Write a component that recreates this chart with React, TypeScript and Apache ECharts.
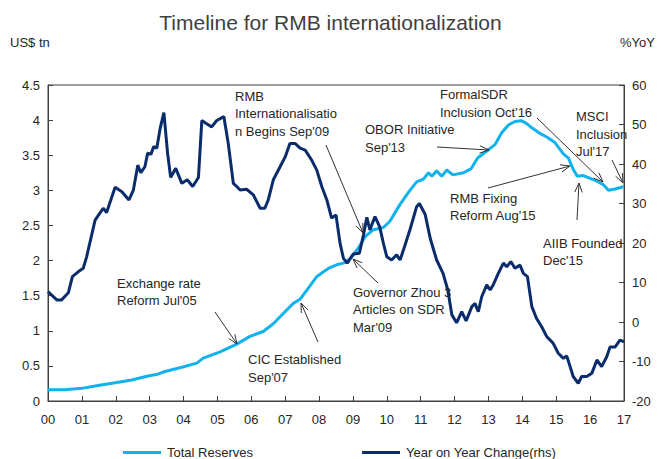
import React, { useEffect, useRef } from "react";
import * as echarts from "echarts";

const FONT = '"Liberation Sans", Arial, sans-serif';

const xTicks = { min: 2000, max: 2017, interval: 1 };
const leftAxis = { min: 0, max: 4.5, interval: 0.5 };
const rightAxis = { min: -20, max: 60, interval: 10 };

const reserveDates = [
  2000.0, 2000.5, 2000.99, 2001.48, 2001.98, 2002.47, 2002.89, 2003.26, 2003.45, 2003.95,
  2004.39, 2004.58, 2005.08, 2005.57, 2005.96, 2006.35, 2006.65, 2006.95, 2007.24, 2007.44,
  2007.64, 2007.93, 2008.13, 2008.32, 2008.52, 2008.77, 2008.96, 2009.16, 2009.36, 2009.6,
  2009.9, 2010.09, 2010.39, 2010.68, 2010.88, 2011.08, 2011.23, 2011.33, 2011.47, 2011.62,
  2011.77, 2011.95, 2012.26, 2012.49, 2012.68, 2012.95, 2013.19, 2013.39, 2013.59, 2013.78,
  2013.98, 2014.13, 2014.28, 2014.52, 2014.72, 2014.96, 2015.21, 2015.36, 2015.5, 2015.62,
  2015.8, 2015.95, 2016.2, 2016.39, 2016.54, 2016.74, 2016.98, 2017.0,
];
const reserveValues = [
  0.16, 0.16, 0.18, 0.22, 0.26, 0.3, 0.35, 0.385, 0.42, 0.48,
  0.54, 0.61, 0.7, 0.81, 0.92, 0.99, 1.1, 1.25, 1.39, 1.45,
  1.58, 1.77, 1.84, 1.9, 1.94, 1.97, 2.05, 2.18, 2.34, 2.44,
  2.47, 2.56, 2.8, 3.0, 3.12, 3.16, 3.25, 3.2, 3.28, 3.2,
  3.29, 3.22, 3.25, 3.31, 3.46, 3.56, 3.65, 3.82, 3.93, 3.98,
  3.99, 3.95, 3.89, 3.81, 3.76, 3.68, 3.52, 3.46, 3.3, 3.2,
  3.21, 3.18, 3.13, 3.08, 3.0, 3.02, 3.05, 3.05,
];

const yoyDates = [
  2000.0, 2000.26, 2000.4, 2000.6, 2000.72, 2000.89, 2001.04, 2001.14, 2001.39, 2001.63,
  2001.73, 2001.98, 2002.18, 2002.39, 2002.52, 2002.65, 2002.74, 2002.86, 2002.94, 2003.04,
  2003.12, 2003.21, 2003.31, 2003.42, 2003.53, 2003.62, 2003.77, 2003.95, 2004.11, 2004.27,
  2004.44, 2004.54, 2004.66, 2004.83, 2004.98, 2005.19, 2005.32, 2005.47, 2005.57, 2005.67,
  2005.86, 2006.06, 2006.26, 2006.4, 2006.5, 2006.65, 2006.85, 2007.0, 2007.14, 2007.29,
  2007.44, 2007.59, 2007.78, 2007.93, 2008.08, 2008.23, 2008.37, 2008.5, 2008.62, 2008.72,
  2008.83, 2009.01, 2009.19, 2009.31, 2009.41, 2009.5, 2009.65, 2009.79, 2009.9, 2010.0,
  2010.14, 2010.29, 2010.39, 2010.49, 2010.68, 2010.88, 2010.96, 2011.13, 2011.28, 2011.47,
  2011.66, 2011.8, 2011.92, 2012.06, 2012.21, 2012.34, 2012.51, 2012.6, 2012.7, 2012.8,
  2012.95, 2013.05, 2013.14, 2013.29, 2013.44, 2013.54, 2013.66, 2013.78, 2013.93, 2014.03,
  2014.15, 2014.28, 2014.42, 2014.57, 2014.72, 2014.91, 2015.06, 2015.21, 2015.31, 2015.41,
  2015.5, 2015.65, 2015.75, 2015.9, 2016.05, 2016.2, 2016.34, 2016.49, 2016.59, 2016.74,
  2016.88, 2017.0,
];
const yoyValues = [
  7.7, 5.6, 5.6, 7.4, 11.5, 12.7, 13.6, 16.5, 25.8, 28.8,
  27.7, 34.1, 33.0, 30.9, 33.4, 39.7, 37.8, 39.3, 42.7, 42.5,
  44.4, 44.0, 49.0, 53.0, 42.7, 36.6, 38.9, 35.1, 36.0, 34.3,
  36.6, 51.0, 50.3, 49.4, 51.0, 52.0, 45.2, 35.1, 34.3, 33.4,
  33.6, 32.2, 28.8, 28.8, 30.9, 36.0, 39.3, 41.8, 45.2, 45.2,
  44.0, 43.5, 41.0, 38.5, 34.3, 30.9, 26.3, 27.1, 19.9, 16.1,
  14.9, 17.2, 17.4, 22.0, 26.5, 23.3, 26.7, 24.1, 19.9, 16.5,
  15.7, 17.0, 15.7, 18.2, 23.3, 29.2, 30.0, 27.3, 21.2, 15.7,
  12.3, 8.1, 1.8, -0.2, 2.6, 0.3, 3.9, 4.7, 2.6, 6.4,
  9.4, 8.1, 9.4, 12.3, 14.9, 14.0, 15.3, 13.6, 14.4, 12.3,
  11.5, 3.9, 0.9, -1.2, -3.7, -5.4, -7.9, -9.2, -8.6, -11.3,
  -13.8, -15.5, -13.8, -13.8, -13.0, -9.6, -11.3, -8.8, -6.3, -6.3,
  -4.6, -5.0,
];

const annotationTexts = [
  { text: "RMB\nInternationalisatio\nn Begins Sep'09", x: 235, y: 87.5 },
  { text: "OBOR Initiative\nSep'13", x: 365, y: 121 },
  { text: "FormalSDR\nInclusion Oct'16", x: 440, y: 86 },
  { text: "MSCI\nInclusion\nJul'17", x: 576, y: 108 },
  { text: "RMB Fixing\nReform Aug'15", x: 450, y: 189.5 },
  { text: "AIIB Founded\nDec'15", x: 543, y: 234.5 },
  { text: "Exchange rate\nReform Jul'05", x: 117, y: 274.5 },
  { text: "CIC Established\nSep'07", x: 248, y: 351 },
  { text: "Governor Zhou 3\nArticles on SDR\nMar'09", x: 353, y: 283.5 },
];

const arrows = [
  [326, 145, 363, 233],
  [437, 147, 489, 150],
  [537, 118, 603, 182],
  [612, 160, 623, 183],
  [488, 188, 570, 166],
  [577, 220, 579, 183],
  [215, 312, 237, 344],
  [318, 342, 301, 303],
  [378, 283, 353, 259],
];

const LIGHT = "#12B2EE";
const DARK = "#0B2C6B";
const AXIS = "#404040";
const TEXT = "#262626";

function arrowGraphic(a: number[]) {
  const [x1, y1, x2, y2] = a;
  const ang = Math.atan2(y2 - y1, x2 - x1);
  const L = 10;
  const w = 0.38;
  const p1 = [x2 - L * Math.cos(ang - w), y2 - L * Math.sin(ang - w)];
  const p2 = [x2 - L * Math.cos(ang + w), y2 - L * Math.sin(ang + w)];
  return [
    { type: "line", z: 100, shape: { x1, y1, x2, y2 }, style: { stroke: "#333", lineWidth: 1 } },
    {
      type: "polyline",
      z: 100,
      shape: { points: [p1, [x2, y2], p2] },
      style: { stroke: "#333", lineWidth: 1, fill: null },
    },
  ];
}

export default function App() {
  const ref = useRef<HTMLDivElement>(null);
  useEffect(() => {
    if (!ref.current) return;
    const chart = echarts.init(ref.current, undefined, { renderer: "svg" });
    const reserves = reserveDates.map((d, i) => [d, reserveValues[i]]);
    const yoy = yoyDates.map((d, i) => [d, yoyValues[i]]);
    const graphics: any[] = [
      {
        type: "text",
        x: 10,
        y: 42,
        style: { text: "US$ tn", font: `13px ${FONT}`, fill: TEXT, verticalAlign: "middle", align: "left" },
      },
      {
        type: "text",
        x: 655,
        y: 42,
        style: { text: "%YoY", font: `13px ${FONT}`, fill: TEXT, verticalAlign: "middle", align: "right" },
      },
    ];
    annotationTexts.forEach((t) => {
      graphics.push({
        type: "text",
        z: 100,
        x: t.x,
        y: t.y,
        style: {
          text: t.text,
          font: `13px ${FONT}`,
          fill: TEXT,
          lineHeight: 17.5,
          align: "left",
          verticalAlign: "top",
        },
      });
    });
    arrows.forEach((a) => graphics.push(...arrowGraphic(a)));

    const axisCommon = {
      axisLine: { show: true, lineStyle: { color: AXIS, width: 1 } },
      axisTick: { show: true, inside: true, length: 5, lineStyle: { color: AXIS } },
      splitLine: { show: false },
      axisLabel: { color: TEXT, fontFamily: FONT, fontSize: 13, margin: 8 },
    };

    const legendCommon = {
      top: 446,
      padding: 0,
      icon: "rect",
      itemWidth: 38,
      itemHeight: 3,
      textStyle: { fontFamily: FONT, fontSize: 13, color: TEXT, padding: [0, 0, 0, 1] },
    };

    chart.setOption({
      animation: false,
      backgroundColor: "#fff",
      title: {
        text: "Timeline for RMB internationalization",
        left: "center",
        top: 7,
        textStyle: { fontFamily: FONT, fontSize: 21, fontWeight: "normal", color: AXIS },
      },
      grid: {
        left: 48,
        right: 37,
        top: 85,
        bottom: 58,
        show: true,
        borderColor: AXIS,
        borderWidth: 1,
        backgroundColor: "transparent",
      },
      legend: [
        { ...legendCommon, data: ["Total Reserves"], left: 123 },
        { ...legendCommon, data: ["Year on Year Change(rhs)"], left: 362 },
      ],
      xAxis: {
        type: "value",
        ...xTicks,
        ...axisCommon,
        axisLabel: {
          ...axisCommon.axisLabel,
          margin: 12,
          formatter: (v: number) => String(Math.round(v) - 2000).padStart(2, "0"),
        },
      },
      yAxis: [
        { type: "value", position: "left", ...leftAxis, ...axisCommon },
        { type: "value", position: "right", ...rightAxis, ...axisCommon },
      ],
      series: [
        {
          name: "Total Reserves",
          type: "line",
          data: reserves,
          yAxisIndex: 0,
          showSymbol: false,
          color: LIGHT,
          lineStyle: { color: LIGHT, width: 3 },
          z: 2,
        },
        {
          name: "Year on Year Change(rhs)",
          type: "line",
          data: yoy,
          yAxisIndex: 1,
          showSymbol: false,
          color: DARK,
          lineStyle: { color: DARK, width: 3 },
          z: 3,
        },
      ],
      graphic: graphics,
    });
    return () => chart.dispose();
  }, []);
  return (
    <div
      ref={ref}
      style={{ position: "fixed", left: 0, top: 0, width: 661, height: 459, background: "#fff" }}
    />
  );
}
